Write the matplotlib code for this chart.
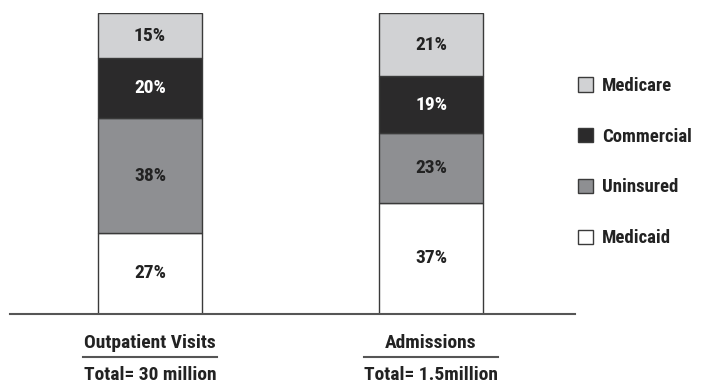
import matplotlib
matplotlib.use("Agg")
import matplotlib.pyplot as plt
import matplotlib.transforms as mtransforms
from matplotlib.lines import Line2D

plt.rcParams['font.family'] = ['Roboto Condensed', 'Archivo Narrow', 'DejaVu Sans']
plt.rcParams['font.weight'] = 'bold'

categories = ["Outpatient Visits", "Admissions"]
totals = ["Total= 30 million", "Total= 1.5million"]
segments = ["Medicaid", "Uninsured", "Commercial", "Medicare"]
medicaid = [27, 37]
uninsured = [38, 23]
commercial = [20, 19]
medicare = [15, 21]

colors = {"Medicaid": "#ffffff", "Uninsured": "#8e8f92",
          "Commercial": "#2b2a2b", "Medicare": "#d1d2d4"}
text_colors = {"Medicaid": "#222222", "Uninsured": "#222222",
               "Commercial": "#ffffff", "Medicare": "#222222"}
FS = 14

W, H = 702, 383
fig = plt.figure(figsize=(W / 100, H / 100), dpi=100)
# axis area: bottom line at y=314px, top of bars at 13px, line from x=10 to 575
ax = fig.add_axes([10 / W, (H - 314) / H, 565 / W, 301 / H])

x = [0, 1]
bar_w = 0.37
bottom = [0, 0]
handles = {}
for name, vals in zip(segments, [medicaid, uninsured, commercial, medicare]):
    bars = ax.bar(x, vals, bar_w, bottom=bottom, color=colors[name],
                  edgecolor="#3a3a3a", linewidth=1.0, label=name, zorder=2)
    handles[name] = bars
    for xi, b, v in zip(x, bottom, vals):
        ax.text(xi, b + v / 2, f"{v}%", ha="center", va="center",
                fontsize=FS, color=text_colors[name], fontweight="bold")
    bottom = [b + v for b, v in zip(bottom, vals)]

ax.set_xlim(-0.498, 1.512)
ax.set_ylim(0, 100)
for s in ["top", "right", "left"]:
    ax.spines[s].set_visible(False)
ax.spines["bottom"].set_color("#555555")
ax.spines["bottom"].set_linewidth(1.5)
ax.set_xticks([])
ax.set_yticks([])

# category names, underline and totals below the axis
trans = mtransforms.blended_transform_factory(ax.transData, fig.transFigure)
for xi, cat, tot in zip(x, categories, totals):
    ax.text(xi, 1 - 343 / H, cat, transform=trans, ha="center", va="center",
            fontsize=FS, color="#222222", fontweight="bold")
    fig.add_artist(Line2D([xi - 0.237, xi + 0.237], [1 - 357 / H] * 2,
                          transform=trans, color="#555555", lw=1.5))
    ax.text(xi, 1 - 375 / H, tot, transform=trans, ha="center", va="center",
            fontsize=FS, color="#222222", fontweight="bold")

order = ["Medicare", "Commercial", "Uninsured", "Medicaid"]
leg = fig.legend([handles[n] for n in order], order, loc="upper left",
                 bbox_to_anchor=(561 / W, 1 - 60 / H), frameon=False,
                 fontsize=13.5, handlelength=0.8, handleheight=0.8,
                 handletextpad=0.5, labelspacing=1.75)
for t in leg.get_texts():
    t.set_color("#222222")

fig.savefig("out.png", dpi=100)
